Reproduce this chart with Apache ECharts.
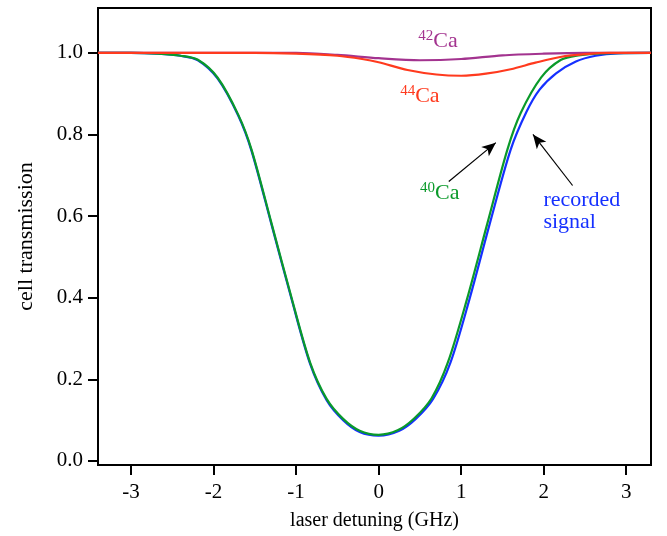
<!DOCTYPE html>
<html>
<head>
<meta charset="utf-8">
<script src="https://cdn.jsdelivr.net/npm/echarts@6/dist/echarts.min.js"></script>
<style>html,body{margin:0;padding:0;background:#fff}#c{width:667px;height:536px}</style>
</head>
<body>
<div id="c"></div>
<script>
// ---- data ----
const xTicks = [-3, -2, -1, 0, 1, 2, 3];
const yTicks = [0, 0.2, 0.4, 0.6, 0.8, 1.0];

const ca40X = [-3.4, -3.0, -2.67, -2.4, -2.19, -1.95, -1.70, -1.54, -1.30, -1.05, -0.83, -0.63, -0.43, -0.23, 0, 0.23, 0.43, 0.64, 0.84, 1.07, 1.32, 1.56, 1.72, 1.97, 2.21, 2.42, 2.7, 3.3];
const ca40Y = [1.0, 1.0, 0.998, 0.993, 0.983, 0.939, 0.848, 0.763, 0.584, 0.396, 0.241, 0.152, 0.103, 0.074, 0.064, 0.075, 0.104, 0.153, 0.242, 0.396, 0.584, 0.763, 0.852, 0.940, 0.983, 0.994, 0.999, 1.0];

const sigX = [-3.4, -3.0, -2.67, -2.4, -2.19, -1.95, -1.70, -1.54, -1.30, -1.05, -0.83, -0.63, -0.43, -0.23, 0, 0.25, 0.45, 0.66, 0.87, 1.1, 1.35, 1.6, 1.79, 1.95, 2.15, 2.39, 2.63, 2.9, 3.3];
const sigY = [1.0, 1.0, 0.998, 0.993, 0.982, 0.937, 0.846, 0.760, 0.581, 0.393, 0.238, 0.149, 0.100, 0.071, 0.062, 0.074, 0.103, 0.152, 0.241, 0.396, 0.584, 0.763, 0.855, 0.910, 0.950, 0.979, 0.993, 0.999, 1.0];

const ca44X = [-3.4, -1.5, -1.0, -0.5, -0.2, 0.0, 0.35, 0.7, 1.0, 1.3, 1.6, 1.9, 2.2, 2.5, 2.8, 3.3];
const ca44Y = [1.0, 1.0, 0.998, 0.993, 0.985, 0.977, 0.958, 0.947, 0.944, 0.949, 0.960, 0.976, 0.990, 0.997, 1.0, 1.0];

const ca42X = [-3.4, -1.0, -0.5, 0.0, 0.5, 1.0, 1.5, 2.0, 2.5, 3.3];
const ca42Y = [1.0, 1.0, 0.995, 0.987, 0.982, 0.985, 0.994, 0.998, 1.0, 1.0];

const labels = {
  ca42: { sup: '42', text: 'Ca', at: [0.72, 1.028] },
  ca44: { sup: '44', text: 'Ca', at: [0.50, 0.893] },
  ca40: { sup: '40', text: 'Ca', at: [0.74, 0.655] },
  signal: { text: 'recorded\nsignal', at: [1.99, 0.611] }
};
const arrows = [
  [[0.85, 0.685], [1.42, 0.780]],
  [[2.35, 0.675], [1.87, 0.800]]
];

// ---- chart ----
const FONT = 'Liberation Serif';
const C = { blue: '#1530ff', green: '#0a9a2a', red: '#ff3a1e', purple: '#a3338f' };
const pairs = (xs, ys) => xs.map((x, i) => [x, ys[i]]);

function isoLabel(l, color) {
  return {
    coord: l.at, symbol: 'circle', symbolSize: 1, itemStyle: { color: 'rgba(0,0,0,0)' },
    label: {
      show: true, position: 'inside',
      formatter: '{s|' + l.sup + '}{t|' + l.text + '}',
      rich: {
        s: { fontFamily: FONT, fontSize: 15, color: color, padding: [0, 0, 11, 0] },
        t: { fontFamily: FONT, fontSize: 22, color: color }
      }
    }
  };
}

const lineCommon = { type: 'line', showSymbol: false, smooth: 0.3 };

const chart = echarts.init(document.getElementById('c'), null, { renderer: 'canvas' });
chart.setOption({
  animation: false,
  backgroundColor: '#fff',
  grid: { left: 98, right: 16, top: 8, bottom: 70, show: true, borderColor: '#000', borderWidth: 2 },
  xAxis: {
    type: 'value', min: -3.4, max: 3.3,
    name: 'laser detuning (GHz)', nameLocation: 'middle', nameGap: 46,
    nameTextStyle: { fontFamily: FONT, fontSize: 20, color: '#000' },
    axisLine: { show: true, onZero: false, lineStyle: { color: '#000', width: 2 } },
    axisTick: { show: true, length: 10, lineStyle: { color: '#000', width: 2 }, customValues: xTicks },
    axisLabel: { fontFamily: FONT, fontSize: 21, color: '#000', margin: 17, customValues: xTicks },
    splitLine: { show: false }
  },
  yAxis: {
    type: 'value', min: -0.01, max: 1.11,
    name: 'cell transmission', nameLocation: 'middle', nameGap: 61,
    nameTextStyle: { fontFamily: FONT, fontSize: 22, color: '#000' },
    axisLine: { show: true, onZero: false, lineStyle: { color: '#000', width: 2 } },
    axisTick: { show: true, length: 10, lineStyle: { color: '#000', width: 2 }, customValues: yTicks },
    axisLabel: { fontFamily: FONT, fontSize: 21, color: '#000', margin: 15, customValues: yTicks,
      formatter: v => v.toFixed(1) },
    splitLine: { show: false }
  },
  series: [
    Object.assign({}, lineCommon, { name: 'recorded signal', data: pairs(sigX, sigY),
      lineStyle: { color: C.blue, width: 2.2 }, itemStyle: { color: C.blue }, z: 2,
      markPoint: { data: [{
        coord: labels.signal.at, symbol: 'circle', symbolSize: 1, itemStyle: { color: 'rgba(0,0,0,0)' },
        label: { show: true, position: 'right', distance: 0, formatter: labels.signal.text, fontFamily: FONT, fontSize: 22,
          color: C.blue, lineHeight: 22, align: 'left' }
      }] } }),
    Object.assign({}, lineCommon, { name: '40Ca', data: pairs(ca40X, ca40Y),
      lineStyle: { color: C.green, width: 2.2 }, itemStyle: { color: C.green }, z: 3,
      markPoint: { data: [isoLabel(labels.ca40, C.green)] },
      markLine: {
        silent: true, symbol: ['none', 'arrow'], symbolSize: [9, 14],
        lineStyle: { color: '#000', width: 1.2, type: 'solid' }, label: { show: false },
        data: arrows.map(a => [{ coord: a[0] }, { coord: a[1] }])
      } }),
    Object.assign({}, lineCommon, { name: '42Ca', data: pairs(ca42X, ca42Y),
      lineStyle: { color: C.purple, width: 2.2 }, itemStyle: { color: C.purple }, z: 4,
      markPoint: { data: [isoLabel(labels.ca42, C.purple)] } }),
    Object.assign({}, lineCommon, { name: '44Ca', data: pairs(ca44X, ca44Y),
      lineStyle: { color: C.red, width: 2.2 }, itemStyle: { color: C.red }, z: 5,
      markPoint: { data: [isoLabel(labels.ca44, C.red)] } })
  ]
});
</script>
</body>
</html>
